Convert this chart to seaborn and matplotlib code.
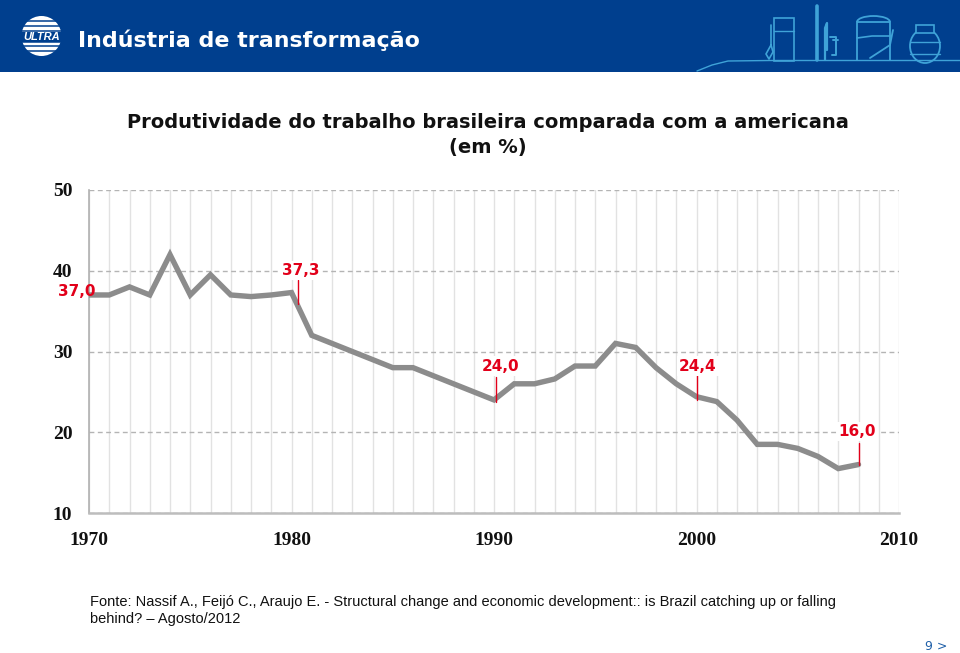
import matplotlib
matplotlib.use('Agg')
import matplotlib.pyplot as plt
from matplotlib.patches import Circle, Rectangle, Arc, Ellipse
import pandas as pd
import seaborn as sns

sns.set_style('white')

years = list(range(1970, 2009))
productivity = [37, 37, 38, 37, 42, 37, 39.5, 37, 36.8, 37, 37.3, 32, 31, 30, 29,
                28, 28, 27, 26, 25, 24, 26, 26, 26.6, 28.2, 28.2, 31, 30.5, 28, 26,
                24.4, 23.8, 21.5, 18.5, 18.5, 18, 17, 15.5, 16]
x_ticks = [1970, 1980, 1990, 2000, 2010]
y_ticks = [10, 20, 30, 40, 50]

# labelled points
label_text = ['37,3', '24,0', '24,4', '16,0', '37,0']
label_x = [1980.44, 1990.3, 2000.07, 2007.95, 1969.38]
label_y = [40.0, 28.2, 28.2, 20.1, 37.4]
# red stems
stem_x = [1980.3, 1990.1, 2000, 2008]
stem_bottom = [35.9, 23.8, 24.0, 16.0]
stem_top = [38.85, 26.8, 27.2, 18.7]

page_title = 'Indústria de transformação'
chart_title = ['Produtividade do trabalho brasileira comparada com a americana', '(em %)']
source = ('Fonte: Nassif A., Feijó C., Araujo E. - Structural change and economic '
          'development:: is Brazil catching up or falling\nbehind? – Agosto/2012')

df = pd.DataFrame({'year': years, 'value': productivity})

fig = plt.figure(figsize=(9.6, 6.53), dpi=100)
W, H = 960, 653

ax = fig.add_axes([89 / W, 1 - 513 / H, (899 - 89) / W, (513 - 190) / H])
sns.lineplot(data=df, x='year', y='value', ax=ax, color='#8c8c8c', linewidth=3.9,
             solid_joinstyle='miter', solid_capstyle='round', zorder=3, errorbar=None)
ax.set_xlim(1970, 2010)
ax.set_ylim(10, 50)
ax.set_xlabel('')
ax.set_ylabel('')

# gridlines
ax.set_xticks(range(1970, 2011), minor=True)
ax.set_xticks(x_ticks)
ax.set_yticks(y_ticks)
ax.grid(True, axis='x', which='both', color='#e2e2e2', linewidth=1, zorder=0)
ax.grid(True, axis='y', which='major', color='#b4b4b4', linewidth=1,
        linestyle=(0, (3.5, 2.5)), zorder=1)
ax.set_axisbelow(True)
ax.tick_params(axis='x', which='major', length=0, pad=14)
ax.tick_params(axis='x', which='minor', direction='in', length=5, color='#b5b5b5', width=1)
ax.tick_params(axis='y', length=0, pad=12)
ax.set_xticklabels([str(v) for v in x_ticks], family='Liberation Serif', fontweight='bold',
                   fontsize=14, color='#111111')
ax.set_yticklabels([str(v) for v in y_ticks], family='Liberation Serif', fontweight='bold',
                   fontsize=14, color='#111111')
for side in ['top', 'right']:
    ax.spines[side].set_visible(False)
ax.spines['left'].set_color('#b0b0b0')
ax.spines['left'].set_linewidth(1.2)
ax.spines['bottom'].set_color('#bdbdbd')
ax.spines['bottom'].set_linewidth(1.8)

# red labels and stems
red = '#e2001a'
for sx, lo, hi in zip(stem_x, stem_bottom, stem_top):
    ax.plot([sx, sx], [lo, hi], color=red, linewidth=1, zorder=4)
for i in range(len(label_text)):
    box = None
    if i < 4:
        box = dict(facecolor='white', edgecolor='none', pad=1.5)
    ax.text(label_x[i], label_y[i], label_text[i], color=red, fontsize=11, fontweight='bold',
            family='DejaVu Sans', ha='center', va='center', zorder=5, bbox=box, clip_on=False)

# overlay in pixel coordinates for the slide furniture
deco = fig.add_axes([0, 0, 1, 1], zorder=-1)
deco.set_xlim(0, W)
deco.set_ylim(H, 0)
deco.axis('off')
navy = '#003f8e'
icon = '#3fa3d8'
deco.add_patch(Rectangle((0, 0), W, 72, facecolor=navy, edgecolor='none'))
deco.text(78, 40, page_title, color='white', fontsize=15.9, fontweight='bold',
          family='DejaVu Sans', ha='left', va='center')

# logo
over = fig.add_axes([0, 0, 1, 1], zorder=5)
over.set_xlim(0, W)
over.set_ylim(H, 0)
over.axis('off')
over.patch.set_alpha(0)
over.add_patch(Circle((41.5, 36), 20, facecolor='white', edgecolor='none'))
for y in [21, 26, 31, 41.5, 46, 50.5]:
    over.plot([20, 63], [y, y], color=navy, linewidth=1.1)
over.add_patch(Rectangle((20, 31.5), 43, 10, facecolor=navy, edgecolor='none'))
over.text(41.5, 36.5, 'ULTRA', color='white', fontsize=8, fontweight='bold', style='italic',
          family='Liberation Sans', ha='center', va='center')

# line drawing on the header
over.plot([697, 712, 728, 770, 960], [71, 65, 61, 60.5, 60.5], color=icon, linewidth=1)
over.add_patch(Rectangle((774, 18), 20, 43, facecolor='none', edgecolor=icon, linewidth=1.2))
over.plot([774, 794], [31, 31], color=icon, linewidth=1)
over.plot([771, 771, 766, 769, 773, 771], [25, 45, 54, 59, 52, 45], color=icon, linewidth=1.2)
over.plot([817, 817], [6, 60], color=icon, linewidth=2.6)
over.plot([825, 825, 827, 827], [60, 28, 23, 50], color=icon, linewidth=1.6)
over.plot([830, 836, 836, 832], [37, 37, 55, 55], color=icon, linewidth=1.4)
over.plot([833, 838], [40, 40], color=icon, linewidth=1.4)
over.plot([857, 857, 890, 890], [60, 22, 22, 60], color=icon, linewidth=1.3)
over.add_patch(Arc((873.5, 22), 33, 12, theta1=180, theta2=360, edgecolor=icon, linewidth=1.3))
over.plot([857, 872, 890], [38, 36, 36], color=icon, linewidth=1.2)
over.plot([870, 890, 893], [58, 45, 30], color=icon, linewidth=1.3)
over.add_patch(Ellipse((925, 46), 30, 34, facecolor=navy, edgecolor=icon, linewidth=1.3))
over.add_patch(Rectangle((916, 25), 18, 8, facecolor=navy, edgecolor=icon, linewidth=1.2))
over.plot([910, 940], [42, 42], color=icon, linewidth=1)
over.plot([910, 940], [54, 54], color=icon, linewidth=1)

fig.text(488 / W, 1 - 122 / H, chart_title[0], fontsize=14.05, fontweight='bold',
         family='DejaVu Sans', ha='center', va='center', color='#111111')
fig.text(488 / W, 1 - 148 / H, chart_title[1], fontsize=14.05, fontweight='bold',
         family='DejaVu Sans', ha='center', va='center', color='#111111')

fig.text(90 / W, 1 - 610.5 / H, source, fontsize=10.56, family='Liberation Sans',
         ha='left', va='center', color='#111111', linespacing=1.35)
fig.text(925 / W, 1 - 646 / H, '9 >', fontsize=9, family='DejaVu Sans',
         ha='left', va='center', color='#1f5fa8')

fig.savefig('out.png', dpi=100)
